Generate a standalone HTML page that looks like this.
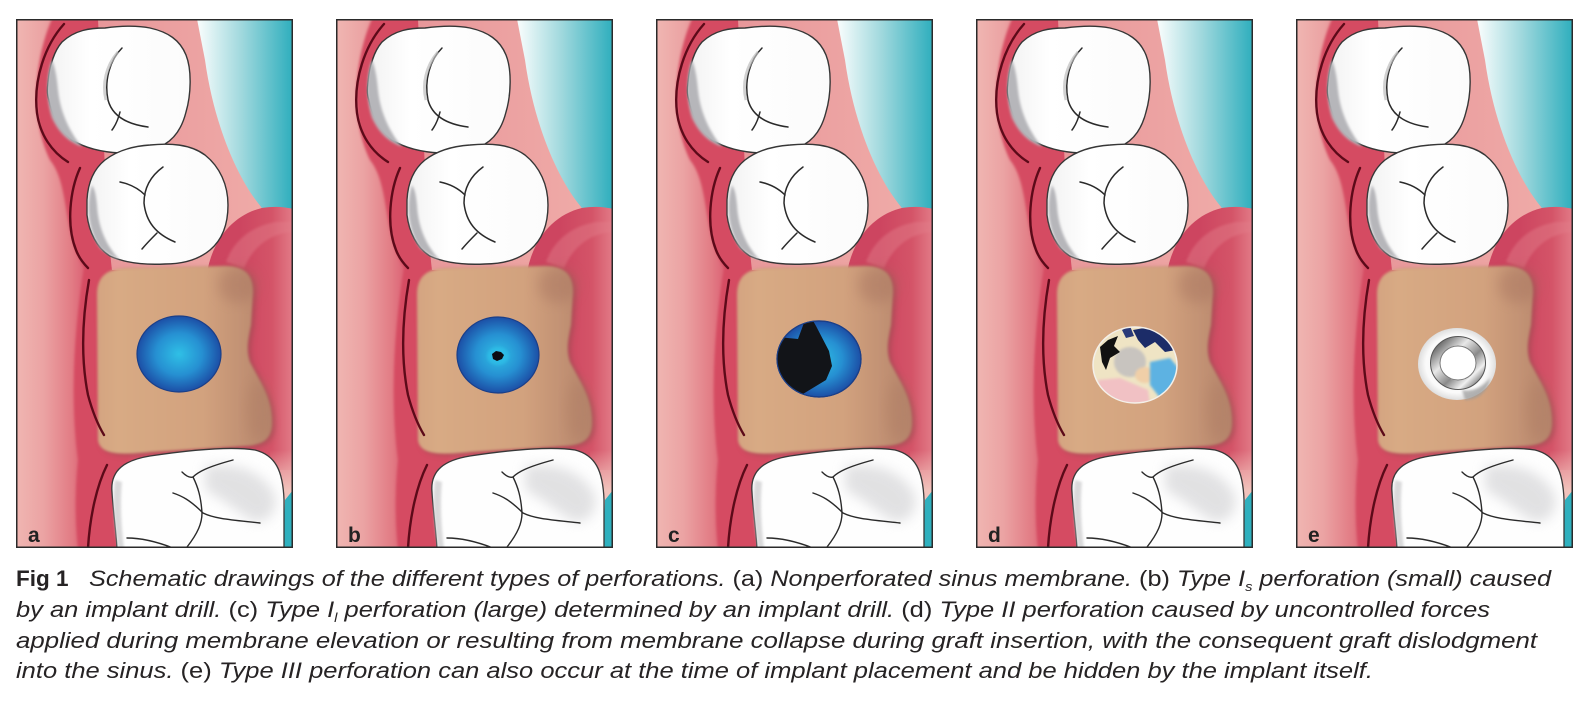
<!DOCTYPE html>
<html><head><meta charset="utf-8"><style>
html,body{margin:0;padding:0;background:#fff;}
svg{display:block;}
.cap{font-family:"Liberation Sans",sans-serif;font-size:22.5px;fill:#262324;}
.it{font-style:italic;}
.lb{font-family:"Liberation Sans",sans-serif;font-size:21px;font-weight:bold;fill:#222;}
</style></head><body>
<svg width="1594" height="710" viewBox="0 0 1594 710" xmlns="http://www.w3.org/2000/svg">
<defs>
 <clipPath id="pclip"><rect x="16" y="19" width="277" height="529"/></clipPath>
 <filter id="soft" x="-10%" y="-10%" width="120%" height="120%"><feGaussianBlur stdDeviation="1.2"/></filter>
 <filter id="blur3" x="-20%" y="-20%" width="140%" height="140%"><feGaussianBlur stdDeviation="3"/></filter>
 <filter id="blur6" x="-30%" y="-30%" width="160%" height="160%"><feGaussianBlur stdDeviation="6"/></filter>
 <linearGradient id="gBase" gradientUnits="userSpaceOnUse" x1="16" y1="0" x2="293" y2="0">
  <stop offset="0" stop-color="#f0b6b2"/>
  <stop offset="0.1" stop-color="#eba3a3"/>
  <stop offset="0.2" stop-color="#e27c85"/>
  <stop offset="0.28" stop-color="#d8526a"/>
  <stop offset="0.8" stop-color="#d24a63"/>
  <stop offset="1" stop-color="#e6858f"/>
 </linearGradient>
 <linearGradient id="gSalmon" gradientUnits="userSpaceOnUse" x1="100" y1="0" x2="260" y2="0">
  <stop offset="0" stop-color="#e8979a"/>
  <stop offset="1" stop-color="#efaaa7"/>
 </linearGradient>
 <linearGradient id="gTeal" gradientUnits="userSpaceOnUse" x1="200" y1="0" x2="293" y2="0">
  <stop offset="0" stop-color="#f4fbfb"/>
  <stop offset="0.45" stop-color="#9fd8dd"/>
  <stop offset="1" stop-color="#2eaebd"/>
 </linearGradient>
 <linearGradient id="gFold" gradientUnits="userSpaceOnUse" x1="240" y1="0" x2="293" y2="0">
  <stop offset="0" stop-color="#cd4560"/>
  <stop offset="0.6" stop-color="#d45468"/>
  <stop offset="1" stop-color="#e27b87"/>
 </linearGradient>
 <linearGradient id="gStrip" gradientUnits="userSpaceOnUse" x1="0" y1="450" x2="0" y2="490">
  <stop offset="0" stop-color="#f1c2bb" stop-opacity="0"/>
  <stop offset="1" stop-color="#f1c2bb" stop-opacity="1"/>
 </linearGradient>
 <linearGradient id="gTan" gradientUnits="userSpaceOnUse" x1="97" y1="0" x2="273" y2="0">
  <stop offset="0" stop-color="#d4a481"/>
  <stop offset="0.12" stop-color="#d8aa84"/>
  <stop offset="0.6" stop-color="#d2a27e"/>
  <stop offset="1" stop-color="#b5846b"/>
 </linearGradient>
 <linearGradient id="gTooth" x1="0" y1="0" x2="1" y2="0">
  <stop offset="0" stop-color="#f2f2f2"/>
  <stop offset="0.3" stop-color="#ffffff"/>
  <stop offset="1" stop-color="#fbfbfb"/>
 </linearGradient>
 <radialGradient id="gBlue" cx="0.5" cy="0.5" r="0.5">
  <stop offset="0" stop-color="#2fc0e6"/>
  <stop offset="0.55" stop-color="#2690d2"/>
  <stop offset="1" stop-color="#1c4fa6"/>
 </radialGradient>
 <radialGradient id="gWhiteDisc" cx="0.5" cy="0.5" r="0.5">
  <stop offset="0" stop-color="#ffffff"/>
  <stop offset="0.8" stop-color="#fafafa"/>
  <stop offset="1" stop-color="#dedede"/>
 </radialGradient>
 <linearGradient id="gSilver" x1="0" y1="0" x2="1" y2="1">
  <stop offset="0" stop-color="#4a4a4a"/>
  <stop offset="0.35" stop-color="#e8e8e8"/>
  <stop offset="0.6" stop-color="#8a8a8a"/>
  <stop offset="0.8" stop-color="#f0f0f0"/>
  <stop offset="1" stop-color="#5a5a5a"/>
 </linearGradient>
 <clipPath id="cC"><ellipse cx="819" cy="359" rx="42" ry="38"/></clipPath>
 <clipPath id="cD"><ellipse cx="1135" cy="365" rx="42" ry="38"/></clipPath>

 <g id="scene">
  <g clip-path="url(#pclip)">
   <rect x="16" y="19" width="277" height="529" fill="url(#gBase)"/>
   <!-- crimson band -->
   <path d="M52,19 C36,55 28,115 50,160 C70,185 62,230 84,268 C74,330 70,400 78,460 C74,500 76,530 78,548 L130,548 L130,19 Z" fill="#d54b62" filter="url(#soft)"/>
   <!-- salmon area right of teeth -->
   <path d="M98,19 L200,19 C208,90 226,160 262,208 C240,215 225,240 214,270 L112,270 C108,240 104,150 98,19 Z" fill="url(#gSalmon)"/>
   <!-- teal -->
   <path d="M197,19 L293,19 L293,212 C280,208 270,207 262,208 C238,180 214,125 205,60 Z" fill="url(#gTeal)"/>
   <!-- red fold / right side -->
   <path d="M206,280 C210,242 232,215 262,208 C275,206 285,207 293,209 L293,470 L240,470 Z" fill="url(#gFold)"/>
   <path d="M226,262 C234,240 252,226 276,222 L293,222 L293,232 C272,233 254,245 244,268 Z" fill="#e27e8a" opacity="0.45" filter="url(#soft)"/>
   <!-- tan shadow -->
   <path d="M97,295 C97,275 108,268 130,268 L225,266 C245,266 253,275 253,292 L251,325 C248,340 246,350 250,362 C262,385 273,400 272,425 C271,440 262,445 245,446 L150,452 C120,455 100,455 98,440 Z" fill="#8a4e4c" opacity="0.5" filter="url(#blur3)" transform="translate(3,2)"/>
   <!-- tan -->
   <path d="M97,295 C97,275 108,268 130,268 L225,266 C245,266 253,275 253,292 L251,325 C248,340 246,350 250,362 C262,385 273,400 272,425 C271,440 262,445 245,446 L150,452 C120,455 100,455 98,440 Z" fill="url(#gTan)" filter="url(#soft)"/>
   <!-- tan upper-right darker -->
   <ellipse cx="238" cy="285" rx="20" ry="18" fill="#a06c5a" opacity="0.35" filter="url(#blur6)"/>
   <ellipse cx="258" cy="410" rx="12" ry="30" fill="#a8775f" opacity="0.3" filter="url(#blur6)"/>
   <!-- pink strip / teal corner bottom right -->
   <path d="M270,450 L293,450 L293,548 L276,548 Z" fill="url(#gStrip)"/>
   <path d="M285,500 L293,490 L293,548 L283,548 Z" fill="#2fb0be"/>
   <!-- lower tooth -->
   <path d="M112,492 C110,470 125,460 150,456 C190,450 230,446 255,450 C275,455 283,470 284,500 L284,548 L117,548 C116,530 113,510 112,492 Z" fill="#fefefe" stroke="#383838" stroke-width="1.3"/>
   <path d="M205,466 C235,462 262,470 275,495 C278,510 270,522 255,522 C240,515 225,500 205,490 Z" fill="#cfcfd1" opacity="0.6" filter="url(#blur6)"/>
   <path d="M115,480 C112,500 114,525 118,548 L124,548 C121,525 120,500 122,482 Z" fill="#c9c9cb" opacity="0.7" filter="url(#soft)"/>
   <g fill="none" stroke="#2a2a2a" stroke-width="1.4" stroke-linecap="round">
    <path d="M182,472 C186,476 190,478 193,477 C198,472 207,467 233,460"/>
    <path d="M173,493 C182,496 190,500 203,513 C215,519 233,520 260,523"/>
    <path d="M193,477 C198,487 201,497 202,513 C202,523 198,533 187,547"/>
    <path d="M127,538 C140,538 155,541 173,548"/>
   </g>
   <!-- tooth 1 -->
   <path d="M48,83 C50,62 55,50 62,42 C75,30 90,28 105,28 C120,26 135,25 150,28 C168,32 180,40 186,55 C192,70 191,95 186,112 C182,128 175,138 165,144 C150,152 135,154 120,153 C100,152 85,148 72,140 C60,130 52,115 49,100 C47,95 47,90 48,83 Z" fill="url(#gTooth)" stroke="#363636" stroke-width="1.4"/>
   <path d="M52,60 C46,75 46,100 52,118 C60,135 70,142 82,147 C68,130 60,110 58,90 C57,80 56,70 52,60 Z" fill="#b6b6ba" filter="url(#soft)"/>
   <g fill="none" stroke="#2a2a2a" stroke-width="1.5" stroke-linecap="round">
    <path d="M122,48 C110,60 104,80 108,100 C112,115 125,124 148,127"/>
    <path d="M120,112 C118,120 115,126 112,130"/>
   </g>
   <path d="M118,52 C106,66 102,84 106,100" fill="none" stroke="#bdbdbd" stroke-width="3" opacity="0.7"/>
   <!-- tooth 2 -->
   <path d="M87,200 C88,180 95,168 105,160 C118,150 135,146 150,145 C170,143 190,144 205,155 C220,167 228,185 228,205 C228,225 222,240 210,250 C198,260 183,264 165,264 C145,265 125,263 110,256 C97,248 89,232 87,215 Z" fill="url(#gTooth)" stroke="#363636" stroke-width="1.4"/>
   <path d="M92,185 C86,205 88,230 100,248 C108,255 115,258 120,260 C105,245 98,225 97,205 C96,195 95,190 92,185 Z" fill="#b6b6ba" filter="url(#soft)"/>
   <g fill="none" stroke="#2a2a2a" stroke-width="1.5" stroke-linecap="round">
    <path d="M163,167 C152,175 144,186 144,203 C146,222 156,234 175,242"/>
    <path d="M120,182 C130,184 138,188 145,195"/>
    <path d="M157,233 C152,238 147,243 142,249"/>
   </g>
   <!-- dark red lines -->
   <g fill="none" stroke="#5c0a19" stroke-width="2.4" stroke-linecap="round">
    <path d="M64,24 C45,45 33,80 37,113 C40,135 52,152 68,162"/>
    <path d="M80,168 C70,190 66,225 76,250 C79,258 84,264 88,268"/>
    <path d="M89,280 C82,320 81,360 88,395 C92,410 98,425 104,435"/>
    <path d="M107,465 C97,485 90,515 88,548"/>
   </g>
  </g>
  <rect x="16.75" y="19.75" width="275.5" height="527.5" fill="none" stroke="#2a2a2a" stroke-width="1.5"/>
 </g>
</defs>

<rect width="1594" height="710" fill="#ffffff"/>

<use href="#scene"/>
<use href="#scene" transform="translate(320,0)"/>
<use href="#scene" transform="translate(640,0)"/>
<use href="#scene" transform="translate(960,0)"/>
<use href="#scene" transform="translate(1280,0)"/>

<!-- a: intact membrane -->
<ellipse cx="179" cy="354" rx="42" ry="38" fill="url(#gBlue)" stroke="#1b3f88" stroke-width="1.2"/>

<!-- b: small perforation -->
<ellipse cx="498" cy="355" rx="41" ry="38" fill="url(#gBlue)" stroke="#1b3f88" stroke-width="1.2"/>
<ellipse cx="498" cy="356" rx="11" ry="9" fill="#2ec2ea" opacity="0.6" filter="url(#soft)"/>
<path d="M492,354 L496,351 L501,352 L504,355 L502,359 L497,361 L493,359 Z" fill="#0c0c12"/>

<!-- c: large perforation -->
<ellipse cx="819" cy="359" rx="42" ry="38" fill="url(#gBlue)" stroke="#1b3f88" stroke-width="1.2"/>
<g clip-path="url(#cC)">
 <path d="M777,337 L798,339 L808,312 L816,326 L829,351 L832,366 L826,380 L760,420 L760,330 Z" fill="#121418"/>
</g>
<ellipse cx="819" cy="359" rx="42" ry="38" fill="none" stroke="#1b3f88" stroke-width="1.2"/>

<!-- d: type II graft dislodgment -->
<g clip-path="url(#cD)">
 <rect x="1090" y="325" width="90" height="80" fill="#efe4c4"/>
 <ellipse cx="1130" cy="362" rx="16" ry="15" fill="#c8c4bf" filter="url(#soft)"/>
 <ellipse cx="1145" cy="375" rx="10" ry="8" fill="#f0cfa8" filter="url(#soft)"/>
 <path d="M1133,330 L1150,327 L1172,338 L1176,350 L1165,352 L1155,342 L1145,348 L1138,340 Z" fill="#1c2c68"/>
 <path d="M1150,362 L1170,358 L1180,370 L1178,395 L1160,398 L1150,385 Z" fill="#5db2e2" filter="url(#soft)"/>
 <path d="M1098,380 L1120,378 L1148,390 L1150,405 L1100,405 Z" fill="#f1c1c4" filter="url(#soft)"/>
 <path d="M1100,347 L1108,340 L1118,336 L1114,346 L1120,352 L1110,358 L1106,370 L1102,362 Z" fill="#111"/>
 <path d="M1122,330 L1130,326 L1134,336 L1126,338 Z" fill="#2a3a78"/>
</g>
<ellipse cx="1135" cy="365" rx="42" ry="38" fill="none" stroke="#f4f0ea" stroke-width="1.5"/>

<!-- e: implant -->
<ellipse cx="1457" cy="364" rx="39" ry="36" fill="url(#gWhiteDisc)"/>
<path d="M1462,390 C1472,392 1482,388 1490,378 C1488,392 1478,400 1465,400 Z" fill="#9a9a9a" opacity="0.7" filter="url(#soft)"/>
<ellipse cx="1458" cy="363" rx="23" ry="22" fill="none" stroke="url(#gSilver)" stroke-width="9"/>
<ellipse cx="1458" cy="363" rx="27.5" ry="26.5" fill="none" stroke="#555" stroke-width="1"/>
<ellipse cx="1458" cy="363" rx="18" ry="17" fill="#ffffff" stroke="#777" stroke-width="1"/>

<!-- panel labels -->
<text class="lb" x="28" y="542">a</text>
<text class="lb" x="348" y="542">b</text>
<text class="lb" x="668" y="542">c</text>
<text class="lb" x="988" y="542">d</text>
<text class="lb" x="1308" y="542">e</text>

<!-- caption -->
<text class="cap" x="16" y="586" font-weight="bold" font-size="22">Fig 1</text>
<text class="cap" x="89" y="586" textLength="1462" lengthAdjust="spacingAndGlyphs"><tspan class="it">Schematic drawings of the different types of perforations. </tspan><tspan>(a)</tspan><tspan class="it"> Nonperforated sinus membrane. </tspan><tspan>(b)</tspan><tspan class="it"> Type I</tspan><tspan class="it" font-size="13" dy="5">s</tspan><tspan class="it" dy="-5"> perforation (small) caused</tspan></text>
<text class="cap" x="16" y="617" textLength="1474" lengthAdjust="spacingAndGlyphs"><tspan class="it">by an implant drill. </tspan><tspan>(c)</tspan><tspan class="it"> Type I</tspan><tspan class="it" font-size="13" dy="5">l</tspan><tspan class="it" dy="-5"> perforation (large) determined by an implant drill. </tspan><tspan>(d)</tspan><tspan class="it"> Type II perforation caused by uncontrolled forces</tspan></text>
<text class="cap it" x="16" y="648" textLength="1521" lengthAdjust="spacingAndGlyphs">applied during membrane elevation or resulting from membrane collapse during graft insertion, with the consequent graft dislodgment</text>
<text class="cap" x="16" y="678" textLength="1357" lengthAdjust="spacingAndGlyphs"><tspan class="it">into the sinus. </tspan><tspan>(e)</tspan><tspan class="it"> Type III perforation can also occur at the time of implant placement and be hidden by the implant itself.</tspan></text>
</svg>
</body></html>
